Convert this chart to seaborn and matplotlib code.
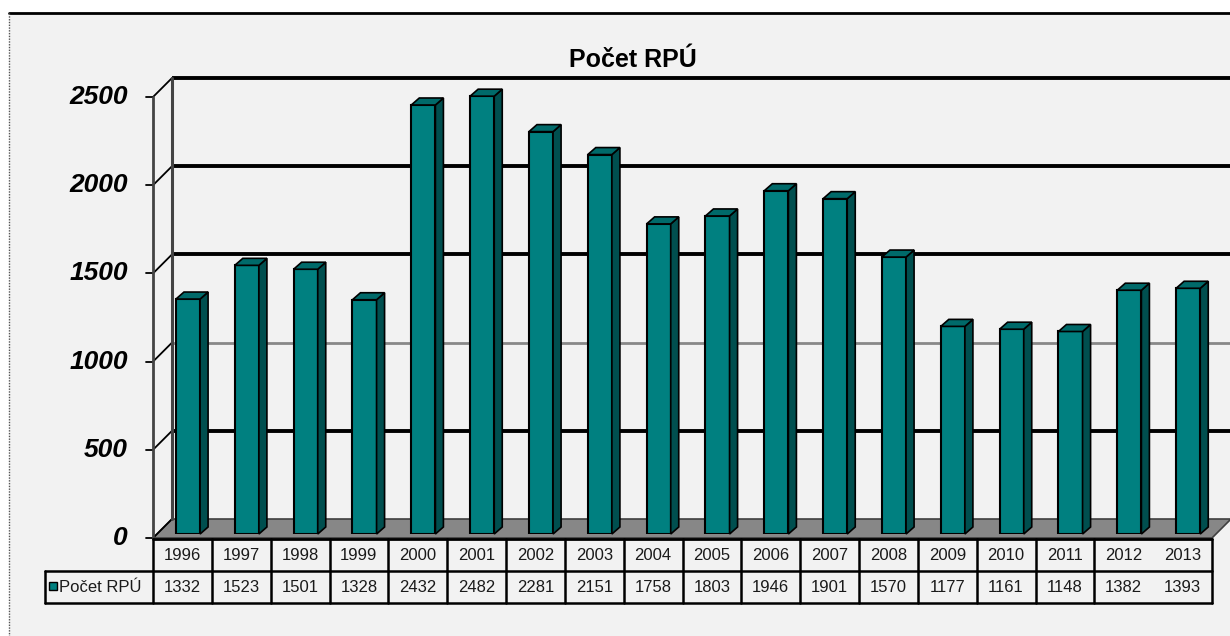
import matplotlib
matplotlib.use("Agg")
import matplotlib.pyplot as plt
from matplotlib.patches import Polygon, Rectangle
import seaborn as sns

# data
years = ["1996", "1997", "1998", "1999", "2000", "2001", "2002", "2003", "2004",
         "2005", "2006", "2007", "2008", "2009", "2010", "2011", "2012", "2013"]
values = [1332, 1523, 1501, 1328, 2432, 2482, 2281, 2151, 1758,
          1803, 1946, 1901, 1570, 1177, 1161, 1148, 1382, 1393]
y_ticks = [0, 500, 1000, 1500, 2000, 2500]
title = "Počet RPÚ"
series_name = "Počet RPÚ"

sns.set_theme(style="white")
plt.rcParams['font.family'] = ['Liberation Sans', 'DejaVu Sans']
plt.rcParams['text.color'] = 'black'

W, H = 1230, 636
fig = plt.figure(figsize=(W / 100, H / 100), dpi=100)
fig.patch.set_facecolor("white")

# background axes in pixel coordinates (for walls, table, frame)
bg = fig.add_axes([0, 0, 1, 1])
bg.set_xlim(0, W)
bg.set_ylim(H, 0)
bg.axis("off")

bg.add_patch(Rectangle((9, 13), W - 9, H - 13, facecolor="#f2f2f2", edgecolor="none"))
bg.plot([9, W], [13, 13], color="black", lw=2)
bg.plot([9, 9], [13, H], color="#555555", lw=1, ls=(0, (1, 1)))

# 3D walls
front_x, depth = 153, 19
y0_front, px_per_unit = 538, 441 / 2500
def yf(v):
    return y0_front - v * px_per_unit

# floor
bg.add_patch(Polygon([(front_x, y0_front), (1212, y0_front), (1230, y0_front - 18),
                      (1230, y0_front - depth), (front_x + depth, y0_front - depth)],
                     closed=True, facecolor="#878787", edgecolor="#404040", lw=1.2))

for v in y_ticks:
    yfr = yf(v)
    yb = yfr - depth
    if v > 0:
        c = "#888888" if v == 1000 else "black"
        lw = 2 if v == 1000 else 2.8
        bg.plot([front_x + depth, W], [yb, yb], color=c, lw=lw, solid_capstyle="butt")
    bg.plot([front_x, front_x + depth], [yfr, yb], color="black", lw=1.3)
    bg.plot([front_x - 7, front_x], [yfr, yfr], color="black", lw=1.3)
    bg.text(128, yfr, str(v), ha="right", va="center", fontsize=19,
            fontweight="bold", fontstyle="italic", color="black")

bg.plot([front_x, front_x], [yf(2500), y0_front], color="#444444", lw=2)
bg.plot([front_x + depth, front_x + depth], [yf(2500) - depth, y0_front - depth], color="#444444", lw=2.2)

bg.text(633, 60, title, ha="center", va="center", fontsize=18, fontweight="bold", color="black")

# data table
col_w = (1212 - front_x) / len(years)
r0, r1, r2 = 539, 571, 603
bg.plot([front_x, 1212], [r0, r0], color="black", lw=2)
bg.plot([45, 1212], [r1, r1], color="black", lw=1.8)
bg.plot([45, 1212], [r2, r2], color="black", lw=1.8)
bg.plot([45, 45], [r1, r2], color="black", lw=1.8)
for k in range(len(years) + 1):
    if k == len(years) - 1:
        continue
    xk = front_x + k * col_w
    bg.plot([xk, xk], [r0, r2], color="black", lw=1.8)
for i, (yr, val) in enumerate(zip(years, values)):
    xc = front_x + (i + 0.5) * col_w
    bg.text(xc, (r0 + r1) / 2 + 1, yr, ha="center", va="center", fontsize=12, color="#1a1a1a")
    bg.text(xc, (r1 + r2) / 2 + 1, str(val), ha="center", va="center", fontsize=12, color="#1a1a1a")
bg.add_patch(Rectangle((49, 582), 8, 8, facecolor="#008080", edgecolor="black", lw=1))
bg.text(59, (r1 + r2) / 2 + 1, series_name, ha="left", va="center", fontsize=12, color="#1a1a1a")

# bar axes (front plane of the columns)
left_px, right_px, base_px, top_px = 158.6, 1217.6, 534, 93
ax = fig.add_axes([left_px / W, (H - base_px) / H, (right_px - left_px) / W, (base_px - top_px) / H])
ax.patch.set_alpha(0)
sns.barplot(x=years, y=values, color="#008080", saturation=1, width=0.41,
            edgecolor="black", linewidth=1.5, ax=ax)
ax.set_xlim(-0.5, len(years) - 0.5)
ax.set_ylim(0, 2500)
ax.axis("off")

ddx = 8 / ((right_px - left_px) / len(years))
ddy = 7 / ((base_px - top_px) / 2500)
for p in list(ax.patches):
    x0, w, h = p.get_x(), p.get_width(), p.get_height()
    side = Polygon([(x0 + w, 0), (x0 + w + ddx, ddy), (x0 + w + ddx, h + ddy), (x0 + w, h)],
                   closed=True, facecolor="#004f4f", edgecolor="black", lw=1.2, clip_on=False)
    top = Polygon([(x0, h), (x0 + ddx, h + ddy), (x0 + w + ddx, h + ddy), (x0 + w, h)],
                  closed=True, facecolor="#006a6a", edgecolor="black", lw=1.2, clip_on=False)
    ax.add_patch(side)
    ax.add_patch(top)

fig.savefig("out.png", dpi=100)
